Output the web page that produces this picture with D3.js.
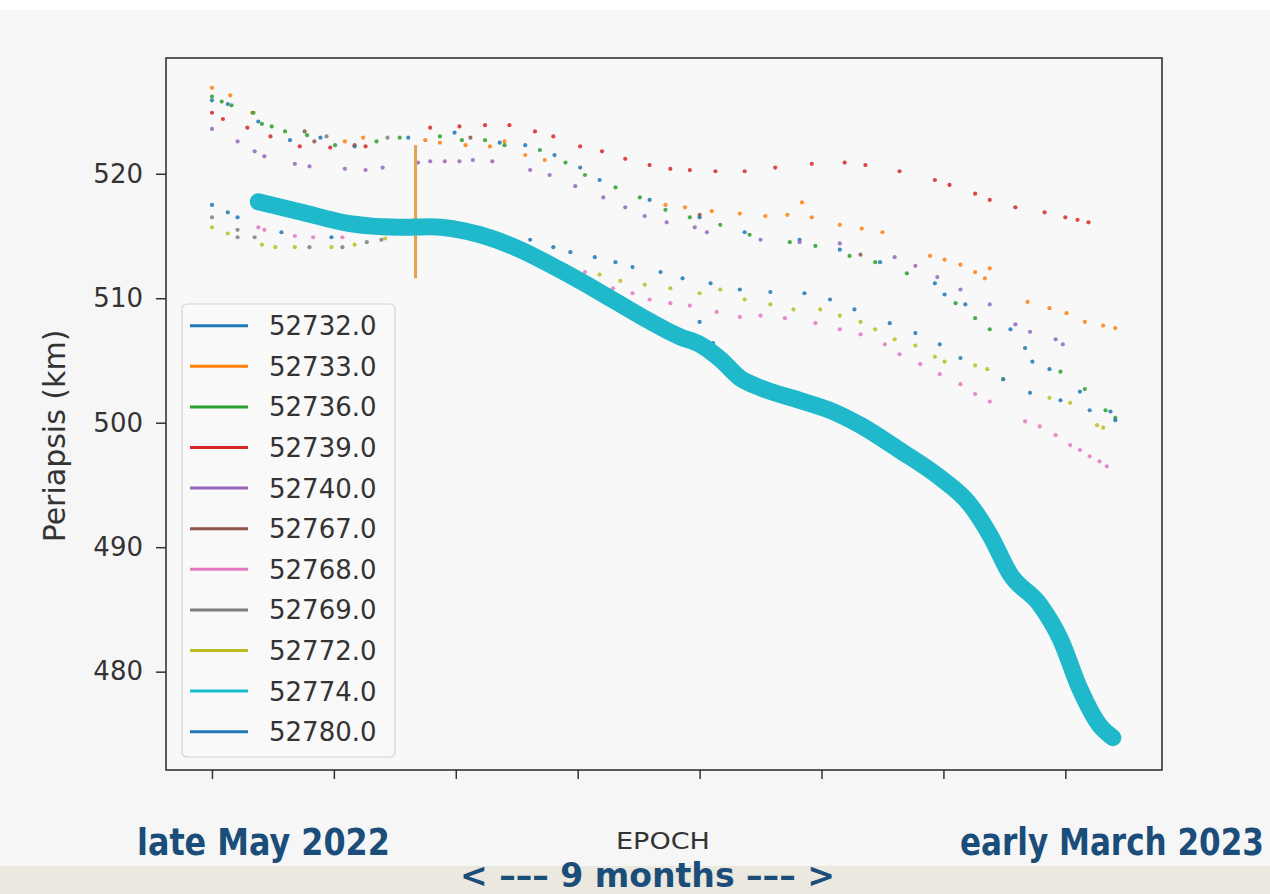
<!DOCTYPE html>
<html><head><meta charset="utf-8">
<script src="https://cdn.jsdelivr.net/npm/d3@7"></script>
<style>
html,body{margin:0;padding:0;background:#f6f6f6;}
svg{display:block;}
</style></head>
<body>
<svg id="c" width="1270" height="894"></svg>
<script>
// ---- DATA (x: epoch in tick units, y: periapsis km) ----
const seriesIds = ["52732.0","52733.0","52736.0","52739.0","52740.0","52767.0","52768.0","52769.0","52772.0","52774.0","52780.0"];
const seriesColors = ["#1f77b4","#ff7f0e","#2ca02c","#d62728","#9467bd","#8c564b","#e377c2","#7f7f7f","#bcbd22","#17becf","#1f77b4"];
const yTicks = [480,490,500,510,520];
const xTicks = [0,1,2,3,4,5,6,7];

const s52732 = [[0.00,525.9],[0.13,525.6],[0.38,524.2],[0.64,522.7],[0.89,522.9],[1.17,522.2],[1.61,522.9],[1.99,523.3],[2.36,522.5],[2.57,522.3],[2.81,521.5],[3.02,520.5],[3.18,519.5],[3.59,517.9],[4.00,516.5],[4.37,515.3],[4.82,514.7],[5.15,513.9],[5.48,512.9],[5.93,511.2],[6.01,510.3],[6.18,509.5],[6.55,507.5],[6.67,506.0],[6.73,504.9],[6.87,504.3],[7.12,502.5],[7.37,500.9]];
const s52733 = [[0.00,526.9],[0.15,526.3],[0.33,524.9],[1.09,522.6],[1.24,522.9],[1.75,522.7],[1.87,522.5],[2.08,522.3],[2.28,522.2],[2.40,522.6],[2.57,521.5],[2.73,521.1],[3.72,517.5],[3.88,517.3],[4.10,517.0],[4.33,516.8],[4.54,516.6],[4.72,516.7],[4.84,517.7],[4.92,516.5],[5.15,515.9],[5.33,515.6],[5.50,515.3],[5.89,513.4],[6.01,513.1],[6.14,512.7],[6.26,512.1],[6.34,511.6],[6.38,512.4],[6.69,509.7],[6.87,509.2],[7.01,508.8],[7.16,508.1],[7.31,507.8],[7.41,507.6]];
const s52733Spike = [[1.67,511.6],[1.67,522.3]];
const s52736 = [[0.00,526.2],[0.08,525.8],[0.16,525.5],[0.34,524.9],[0.41,524.0],[0.49,523.8],[0.60,523.4],[0.78,523.1],[1.01,522.3],[1.35,522.6],[1.54,522.9],[1.87,523.0],[2.05,522.7],[2.24,522.7],[2.40,522.3],[2.69,521.9],[2.90,520.9],[3.06,519.9],[3.31,518.9],[3.51,518.1],[3.72,517.1],[3.92,516.5],[4.17,515.9],[4.41,515.1],[4.74,514.5],[4.95,514.2],[5.23,513.4],[5.44,512.9],[5.70,512.0],[6.10,509.6],[6.26,508.4],[6.38,507.5],[6.96,504.1],[7.16,502.7],[7.33,501.0],[7.41,500.4]];
const s52739 = [[0.00,524.9],[0.09,524.4],[0.29,523.7],[0.48,523.0],[0.72,522.2],[0.97,522.1],[1.26,522.2],[1.79,523.7],[2.03,523.8],[2.24,523.9],[2.44,523.9],[2.65,523.4],[2.80,523.0],[3.02,522.2],[3.20,521.8],[3.39,521.2],[3.59,520.7],[3.76,520.4],[3.92,520.3],[4.13,520.2],[4.37,520.2],[4.62,520.5],[4.92,520.8],[5.19,520.9],[5.36,520.7],[5.64,520.2],[5.93,519.5],[6.05,519.1],[6.26,518.4],[6.38,517.9],[6.59,517.3],[6.83,516.9],[7.00,516.5],[7.10,516.3],[7.19,516.1]];
const s52740 = [[0.00,523.6],[0.21,522.6],[0.35,521.8],[0.43,521.4],[0.68,520.8],[0.80,520.6],[1.09,520.4],[1.26,520.3],[1.40,520.5],[1.69,520.9],[1.79,521.0],[1.91,521.0],[2.03,521.0],[2.14,521.1],[2.30,521.0],[2.61,520.3],[2.77,519.9],[2.98,519.0],[3.21,518.1],[3.39,517.3],[3.55,516.6],[3.73,516.1],[3.96,515.7],[4.06,515.3],[4.50,514.7],[4.82,514.5],[5.15,514.4],[5.60,513.3],[5.77,512.6],[5.95,511.7],[6.14,510.7],[6.38,509.5],[6.59,507.9],[6.71,507.3],[6.92,506.7],[6.98,506.3]];
const s52767 = [[0.76,523.4],[0.84,522.6],[1.17,522.3],[2.12,522.9],[4.00,516.7],[5.32,513.5]];
const s52768 = [[0.38,515.7],[0.43,515.5],[0.68,515.0],[0.83,514.9],[1.07,514.9],[3.06,512.1],[3.29,510.8],[3.45,510.4],[3.59,509.9],[3.76,509.6],[3.92,509.4],[4.14,508.9],[4.33,508.5],[4.50,508.6],[4.70,508.4],[4.95,508.0],[5.15,507.5],[5.32,507.1],[5.52,506.3],[5.64,505.5],[5.81,504.7],[5.97,503.9],[6.14,503.1],[6.26,502.3],[6.38,501.7],[6.67,500.1],[6.79,499.7],[6.92,499.0],[7.04,498.2],[7.12,497.8],[7.20,497.3],[7.28,496.9],[7.34,496.5]];
const s52769 = [[0.00,516.5],[0.21,515.5],[0.21,514.9],[0.35,514.9],[0.80,514.1],[1.07,514.1],[1.27,514.5],[1.39,514.7],[0.94,523.0],[1.44,522.9]];
const s52772 = [[0.00,515.7],[0.13,515.2],[0.41,514.3],[0.52,514.1],[0.68,514.1],[0.98,514.1],[1.17,514.3],[1.42,514.8],[3.18,511.9],[3.35,511.4],[3.55,511.1],[3.76,510.8],[4.00,510.4],[4.17,510.7],[4.37,509.9],[4.58,509.5],[4.77,509.1],[4.99,509.1],[5.15,508.6],[5.32,508.1],[5.44,507.5],[5.60,506.7],[5.77,506.2],[5.93,505.3],[6.01,504.9],[6.26,504.6],[6.36,504.3],[6.49,503.5],[6.87,502.0],[7.04,501.6],[7.26,499.8],[7.31,499.6]];
const s52774 = [[0.38,517.75],[0.72,516.95],[1.13,516.0],[1.54,515.7],[1.79,515.75],[2.20,515.1],[2.53,513.9],[2.85,512.3],[3.18,510.5],[3.51,508.6],[3.84,506.9],[4.00,506.3],[4.17,505.1],[4.33,503.6],[4.50,502.8],[4.82,501.8],[5.07,501.0],[5.32,499.8],[5.64,497.8],[5.97,495.6],[6.22,493.4],[6.38,491.0],[6.55,487.8],[6.79,485.4],[6.96,482.6],[7.12,478.6],[7.28,475.7],[7.39,474.7]];
const s52780 = [[0.00,517.5],[0.13,516.9],[0.21,516.5],[0.57,515.3],[0.98,514.9],[1.28,515.3],[2.36,515.0],[2.61,514.7],[2.80,514.1],[2.94,513.7],[3.14,513.3],[3.31,512.9],[3.45,512.5],[3.68,512.1],[3.86,511.6],[4.09,511.2],[4.33,510.7],[4.58,510.5],[4.86,510.4],[5.07,509.9],[5.27,509.1],[5.56,508.0],[5.77,507.2],[5.97,506.3],[6.14,505.2],[6.49,503.5],[6.71,502.4],[6.96,501.8],[7.20,501.0],[7.41,500.2],[4.00,508.1],[4.11,506.4]];

const dotSeries = [s52732,s52733,s52736,s52739,s52740,s52767,s52768,s52769,s52772,null,s52780];

// ---- LAYOUT ----
const svg = d3.select("#c");
const L = 166, R = 1162, T = 58, B = 770;
const x = d3.scaleLinear().domain([-0.377, 7.793]).range([L, R]);
const y = d3.scaleLinear().domain([472.1, 529.3]).range([B, T]);

svg.append("rect").attr("x",0).attr("y",0).attr("width",1270).attr("height",894).attr("fill","#f6f6f6");
svg.append("rect").attr("x",0).attr("y",0).attr("width",1270).attr("height",10).attr("fill","#ffffff");
svg.append("rect").attr("x",0).attr("y",866).attr("width",1270).attr("height",28).attr("fill","#ebe8df");
svg.append("rect").attr("x",L).attr("y",T).attr("width",R-L).attr("height",B-T).attr("fill","#f8f8f8");

const plot = svg.append("g");
dotSeries.forEach((pts,i)=>{
  if(!pts) return;
  plot.append("g").selectAll("circle").data(pts).join("circle")
    .attr("cx",d=>x(d[0])).attr("cy",d=>y(d[1])).attr("r",2.1)
    .attr("fill",seriesColors[i]).attr("opacity",0.85);
});
plot.append("path").datum(s52733Spike)
  .attr("d", d3.line().x(d=>x(d[0])).y(d=>y(d[1])))
  .attr("stroke","#e4a24e").attr("stroke-width",3).attr("fill","none");
plot.append("path").datum(s52774)
  .attr("d", d3.line().curve(d3.curveMonotoneX).x(d=>x(d[0])).y(d=>y(d[1])))
  .attr("stroke","#1fb9cb").attr("stroke-width",17).attr("stroke-linecap","round").attr("stroke-linejoin","round").attr("fill","none");

// axes
const ya = svg.append("g").attr("transform",`translate(${L},0)`)
  .call(d3.axisLeft(y).tickValues(yTicks).tickSize(10).tickPadding(13).tickFormat(d3.format("d")));
const xa = svg.append("g").attr("transform",`translate(0,${B})`)
  .call(d3.axisBottom(x).tickValues(xTicks).tickSize(9).tickFormat(""));
[ya,xa].forEach(a=>{
  a.select(".domain").remove();
  a.selectAll(".tick line").attr("stroke","#333").attr("stroke-width",1.5);
  a.selectAll(".tick text").attr("fill","#333").style("font-family","DejaVu Sans").style("font-size","26px");
});
svg.append("rect").attr("x",L).attr("y",T).attr("width",R-L).attr("height",B-T)
  .attr("fill","none").attr("stroke","#333").attr("stroke-width",1.6);

// y label
svg.append("text").attr("transform","translate(65,436) rotate(-90)")
  .attr("text-anchor","middle").attr("fill","#333")
  .style("font-family","DejaVu Sans").style("font-size","30px").text("Periapsis (km)");

// legend
const lg = svg.append("g");
lg.append("rect").attr("x",182).attr("y",304).attr("width",213).attr("height",453).attr("rx",5)
  .attr("fill","#f8f8f8").attr("fill-opacity",0.9).attr("stroke","#d4d4d4").attr("stroke-width",1.2);
seriesIds.forEach((id,i)=>{
  const cy = 325.7 + i*40.6;
  lg.append("line").attr("x1",190).attr("x2",248).attr("y1",cy).attr("y2",cy)
    .attr("stroke",seriesColors[i]).attr("stroke-width",3);
  lg.append("text").attr("x",269).attr("y",cy+9.5).attr("fill","#333")
    .style("font-family","DejaVu Sans").style("font-size","26px").text(id);
});

// bottom annotations: horizontally scaled to the reference widths
const blue = "#1b4d7a";
function txt(s, xx, yy, len, size, weight, color){
  const g = svg.append("g");
  const t = g.append("text").attr("x",0).attr("y",0).attr("fill",color)
    .style("font-family","'DejaVu Sans Condensed','Liberation Sans Narrow',sans-serif")
    .style("font-size",size+"px").style("font-weight",weight).text(s);
  const w = t.node().getComputedTextLength();
  g.attr("transform",`translate(${xx},${yy}) scale(${len/w},1)`);
  return t;
}
txt("late May 2022",137,855,253,37,"bold",blue);
txt("EPOCH",616,849,94,23,"normal","#333");
txt("early March 2023",960,855,304,37,"bold",blue);
txt("< ––– 9 months ––– >",460,887,375,33,"bold",blue);
</script>
</body></html>
